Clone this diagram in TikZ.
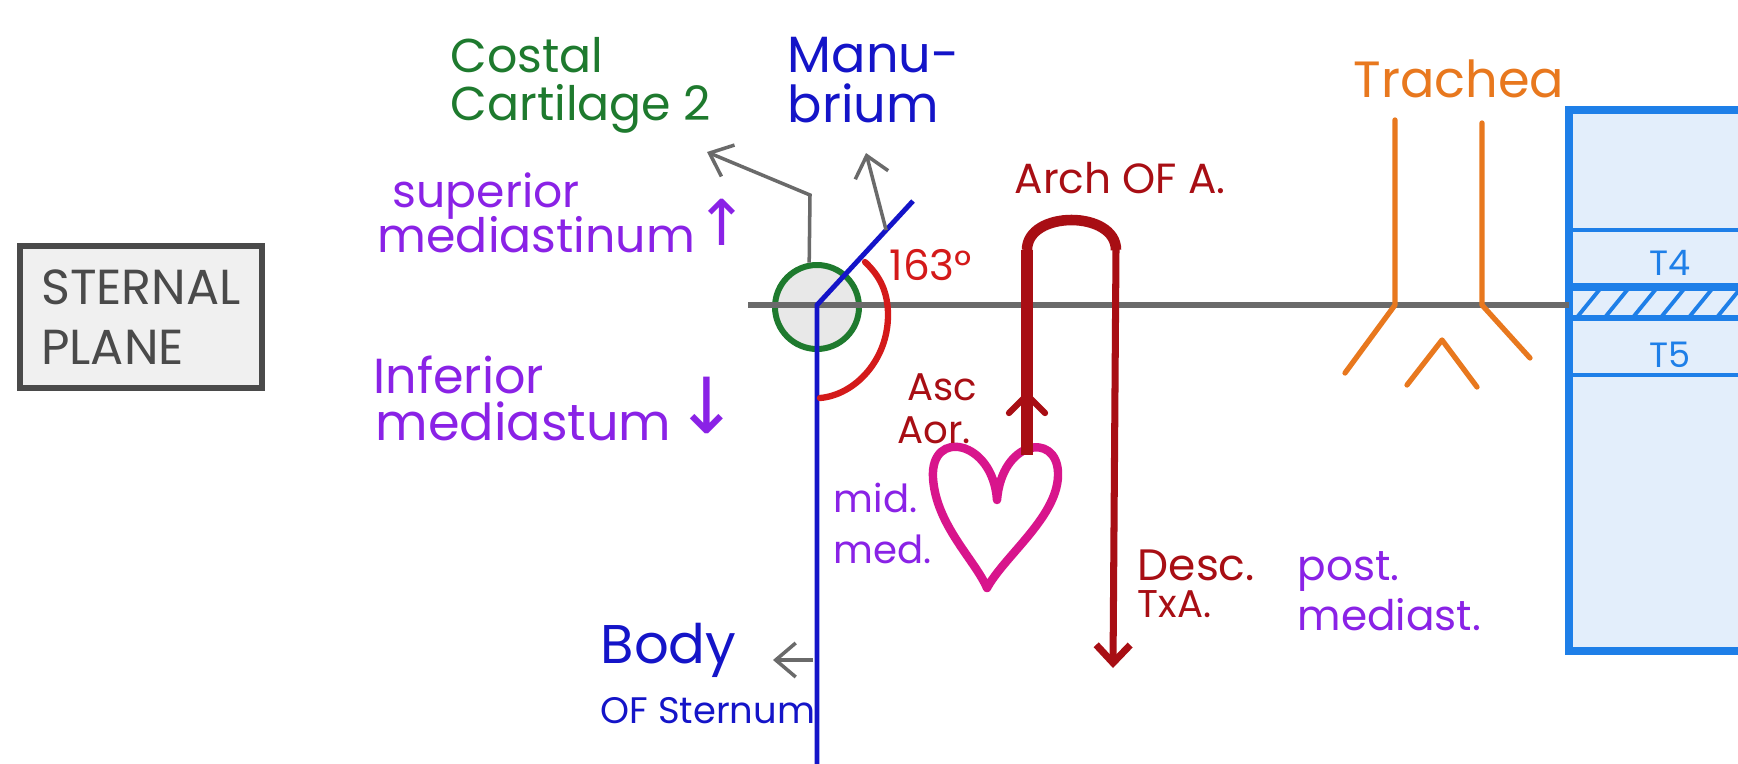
\documentclass[tikz,border=0pt]{standalone}
\usepackage{fontspec}
\setmainfont{Poppins}
\newfontfamily\arrowfont{DejaVu Sans}
\usepackage{tikz}
\usetikzlibrary{arrows.meta,calc}

\definecolor{planegray}{HTML}{4A4A4A}
\definecolor{linegray}{HTML}{6A6A6A}
\definecolor{cartgreen}{HTML}{1E7A2E}
\definecolor{boneblue}{HTML}{1414C8}
\definecolor{mediapurple}{HTML}{8A22E6}
\definecolor{aortared}{HTML}{A80E14}
\definecolor{anglered}{HTML}{D41A1A}
\definecolor{heartpink}{HTML}{D8158C}
\definecolor{tracheaorange}{HTML}{E8781E}
\definecolor{spineblue}{HTML}{1E7FE8}
\definecolor{spinefill}{HTML}{E3EEFB}

\newcommand{\handsize}[1]{\fontsize{#1}{#1}\selectfont}

\tikzset{
	tag/.style={inner sep=0pt, anchor=base west},
	pointer/.style={draw=linegray, line width=1pt, -{Straight Barb[length=2mm,width=3.4mm]}},
	tube/.style={tracheaorange, line width=1.5pt, line cap=round, line join=round},
}

\begin{document}
\begin{tikzpicture}[x=0.1mm, y=-0.1mm]

\clip (0,0) rectangle (1738,764);
\fill[white] (0,0) rectangle (1738,764);

% box on the left
\node[draw=planegray, line width=1.8pt, fill=black!6, minimum width=24.2mm, minimum height=14.2mm, align=left, text=planegray, font=\fontsize{14}{17}\selectfont] (plane) at (141,317) {STERNAL\\PLANE};

% vertebrae
\fill[spinefill] (1569,110) rectangle (1780,651);
\draw[spineblue, line width=1.3pt] (1569,230) -- (1780,230);
\draw[spineblue, line width=1.3pt] (1569,375) -- (1780,375);
\draw[spineblue, line width=2pt] (1569,287) -- (1780,287);
\draw[spineblue, line width=1.8pt] (1569,318) -- (1780,318);
\foreach \x in {1578,1606,...,1750}
	\draw[spineblue, line width=1.1pt] (\x,316) -- (\x+22,289);
\draw[spineblue, line width=2.4pt] (1569,110) rectangle (1780,651);
\node[text=spineblue, font=\handsize{10}] (t4) at (1670,263) {T4};
\node[text=spineblue, font=\handsize{10}] (t5) at (1670,355) {T5};

% sternal angle
\node[circle, draw=cartgreen, line width=1.7pt, fill=black!9, minimum size=8.4mm, inner sep=0pt] (joint) at (817,307) {};
\coordinate (planeW) at (748,305);
\coordinate (spine) at (1569,305);
\draw[linegray, line width=1.7pt] (planeW) -- (spine);

\coordinate (angle) at (817,305);
\coordinate (manutop) at (913,201);
\coordinate (sternbot) at (817,790);
\draw[boneblue, line width=1.4pt] (manutop) -- (angle) -- (sternbot);

\draw[anglered, line width=1.8pt, line cap=round] (865,262) .. controls (880,276) and (888,292) .. (888,315) .. controls (888,360) and (855,395) .. (820,398);
\node[tag, text=anglered, font=\handsize{12}] (deg) at (889,280) {163°};

% trachea
\draw[tube] (1395,120) -- (1395,305) -- (1345,373);
\draw[tube] (1482,123) -- (1482,305) -- (1530,358);
\draw[tube] (1407,385) -- (1442,340) -- (1477,387);
\node[tag, text=tracheaorange, font=\handsize{14.5}] (trachea) at (1353,97) {Trachea};

% heart and aorta
\draw[heartpink, line width=2.4pt, line join=round] (997,500) .. controls (993,440) and (930,428) .. (933,478) .. controls (936,525) and (975,560) .. (987,588) .. controls (1005,555) and (1060,515) .. (1058,472) .. controls (1056,432) and (1002,440) .. (997,500) -- cycle;
\coordinate (heart) at (1027,455);
\coordinate (archL) at (1027,250);
\coordinate (archR) at (1116,250);
\coordinate (descend) at (1113,668);
\draw[aortared, line width=3.6pt] (heart) -- (archL);
\draw[aortared, line width=3pt] (archL) .. controls (1027,210) and (1116,210) .. (archR);
\draw[aortared, line width=2pt, -{Straight Barb[length=1.8mm,width=3.4mm]}] (archR) -- (descend);
\draw[aortared, line width=1.8pt, line cap=round] (1009,413) -- (1027,395) -- (1045,413);

% labels
\node[tag, text=cartgreen, font=\handsize{13.5}] (costal1) at (450,72) {Costal};
\node[tag, text=cartgreen, font=\handsize{13.5}] (costal2) at (450,120) {Cartilage 2};
\node[tag, text=boneblue, font=\handsize{14.5}] (manu1) at (787,72) {Manu-};
\node[tag, text=boneblue, font=\handsize{14.5}] (manu2) at (787,122) {brium};

\node[tag, text=mediapurple, font=\handsize{13}] (sup1) at (392,207) {superior};
\node[tag, text=mediapurple, font=\handsize{13.5}] (sup2) at (377,252) {mediastinum};
\node[text=mediapurple, font=\arrowfont\handsize{18}, inner sep=0pt] (suparrow) at (722,222) {↑};
\node[tag, text=mediapurple, font=\handsize{14}] (inf1) at (373,393) {Inferior};
\node[tag, text=mediapurple, font=\handsize{14.5}] (inf2) at (375,440) {mediastum};
\node[text=mediapurple, font=\arrowfont\handsize{22}, inner sep=0pt] (infarrow) at (707,405) {↓};

\node[tag, text=aortared, font=\handsize{12}] (arch) at (1014,193) {Arch OF A.};
\node[tag, text=aortared, font=\handsize{11}] (asc1) at (907,400) {Asc};
\node[tag, text=aortared, font=\handsize{11}] (asc2) at (897,443) {Aor.};
\node[tag, text=mediapurple, font=\handsize{11}] (mid1) at (833,512) {mid.};
\node[tag, text=mediapurple, font=\handsize{11}] (mid2) at (833,563) {med.};
\node[tag, text=aortared, font=\handsize{12.5}] (desc1) at (1137,580) {Desc.};
\node[tag, text=aortared, font=\handsize{11}] (desc2) at (1137,617) {TxA.};
\node[tag, text=mediapurple, font=\handsize{12}] (post1) at (1297,580) {post.};
\node[tag, text=mediapurple, font=\handsize{12}] (post2) at (1297,630) {mediast.};
\node[tag, text=boneblue, font=\handsize{15.5}] (body1) at (600,663) {Body};
\node[tag, text=boneblue, font=\handsize{10.5}] (body2) at (600,723) {OF Sternum};

% pointers
\coordinate (bend) at (810,195);
\coordinate (cartilage) at (707,152);
\draw[pointer] (joint.100) -- (bend) -- (cartilage);
\coordinate (manufoot) at ($(angle)!0.72!(manutop)$);
\coordinate (manubrium) at (866,153);
\draw[pointer] (manufoot) -- (manubrium);
\coordinate (bodyfoot) at (813,660);
\coordinate (body) at (773,660);
\draw[pointer] (bodyfoot) -- (body);

\end{tikzpicture}
\end{document}
